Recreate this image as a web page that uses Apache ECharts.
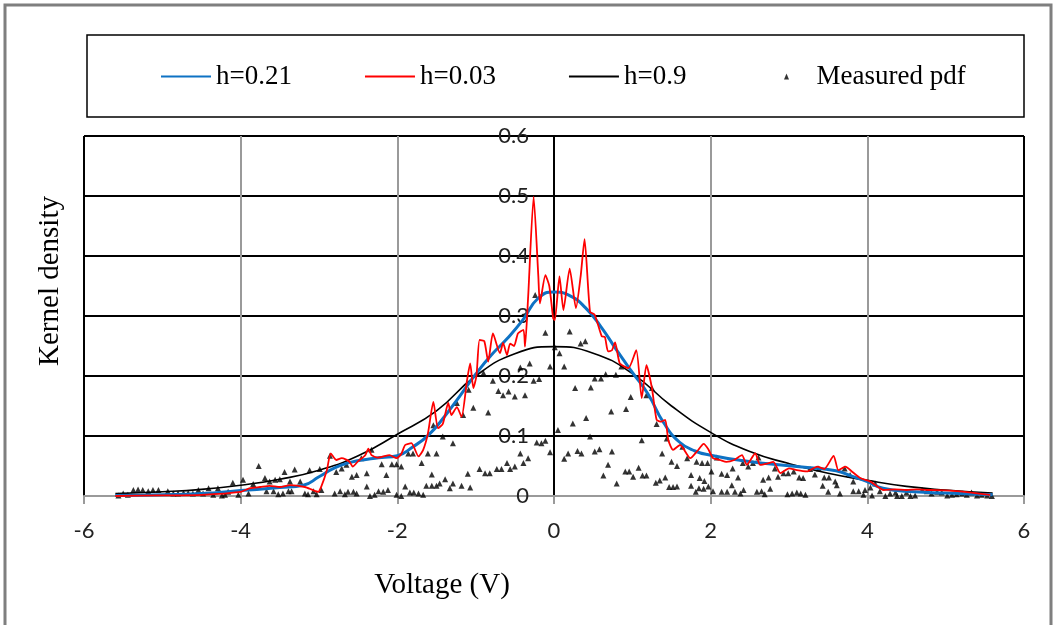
<!DOCTYPE html>
<html>
<head>
<meta charset="utf-8">
<script src="https://cdn.jsdelivr.net/npm/echarts@6/dist/echarts.min.js"></script>
<style>
  html, body { margin: 0; padding: 0; background: #fff; }
  #main { width: 1056px; height: 625px; }
</style>
</head>
<body>
<div id="main"></div>
<script>
// values
const xTicks = [-6, -4, -2, 0, 2, 4, 6];
const yTicks = [0, 0.1, 0.2, 0.3, 0.4, 0.5, 0.6];

const kdeH021 = [
  [-5.6,0.001],[-5.0,0.002],[-4.5,0.004],[-4.0,0.009],[-3.5,0.014],[-3.2,0.018],
  [-3.0,0.032],[-2.8,0.047],[-2.6,0.056],[-2.4,0.061],[-2.2,0.064],[-2.0,0.067],
  [-1.8,0.082],[-1.6,0.102],[-1.4,0.132],[-1.2,0.167],[-1.0,0.203],[-0.8,0.235],
  [-0.6,0.262],[-0.4,0.293],[-0.2,0.330],[0,0.340],[0.2,0.334],[0.4,0.314],
  [0.6,0.282],[0.8,0.243],[1.0,0.206],[1.2,0.170],[1.4,0.122],[1.6,0.090],
  [1.8,0.075],[2.0,0.068],[2.4,0.059],[2.8,0.053],[3.2,0.048],[3.6,0.042],
  [3.8,0.033],[4.0,0.024],[4.2,0.013],[4.6,0.007],[5.0,0.005],[5.6,0.002]
];

const kdeH003 = [
  [-5.6,0.0],[-5.0,0.001],[-4.5,0.002],[-4.0,0.007],[-3.88,0.013],[-3.75,0.015],
  [-3.63,0.017],[-3.5,0.015],[-3.37,0.018],[-3.18,0.015],[-3.08,0.010],[-3.01,0.007],
  [-2.97,0.016],[-2.90,0.043],[-2.85,0.071],[-2.78,0.060],[-2.71,0.063],[-2.66,0.061],
  [-2.61,0.057],[-2.57,0.049],[-2.50,0.058],[-2.41,0.068],[-2.37,0.079],[-2.33,0.068],
  [-2.25,0.064],[-2.18,0.066],[-2.10,0.068],[-2.01,0.063],[-1.95,0.070],[-1.90,0.085],
  [-1.82,0.088],[-1.73,0.066],[-1.67,0.077],[-1.61,0.104],[-1.54,0.157],[-1.48,0.113],
  [-1.42,0.120],[-1.35,0.155],[-1.31,0.135],[-1.24,0.148],[-1.18,0.132],[-1.11,0.193],
  [-1.07,0.221],[-1.03,0.180],[-0.99,0.200],[-0.95,0.260],[-0.89,0.258],[-0.84,0.224],
  [-0.78,0.271],[-0.69,0.238],[-0.65,0.255],[-0.60,0.235],[-0.56,0.254],[-0.51,0.250],
  [-0.46,0.271],[-0.39,0.277],[-0.37,0.249],[-0.33,0.332],[-0.26,0.499],[-0.20,0.366],
  [-0.18,0.321],[-0.11,0.368],[-0.06,0.350],[-0.01,0.296],[0.01,0.293],[0.07,0.366],
  [0.12,0.310],[0.20,0.379],[0.28,0.313],[0.34,0.366],[0.39,0.428],[0.46,0.307],
  [0.52,0.302],[0.61,0.266],[0.65,0.265],[0.69,0.241],[0.74,0.243],[0.78,0.256],
  [0.84,0.221],[0.95,0.213],[1.05,0.243],[1.12,0.163],[1.18,0.218],[1.25,0.180],
  [1.31,0.127],[1.37,0.124],[1.42,0.127],[1.46,0.093],[1.52,0.077],[1.61,0.085],
  [1.74,0.063],[1.83,0.075],[1.91,0.087],[1.97,0.078],[2.03,0.063],[2.12,0.060],
  [2.20,0.057],[2.30,0.060],[2.40,0.068],[2.46,0.052],[2.57,0.071],[2.63,0.052],
  [2.72,0.054],[2.80,0.057],[2.89,0.038],[3.00,0.046],[3.10,0.043],[3.23,0.041],
  [3.36,0.049],[3.45,0.045],[3.57,0.067],[3.63,0.043],[3.72,0.049],[3.81,0.040],
  [3.91,0.030],[4.04,0.024],[4.21,0.010],[4.35,0.011],[4.5,0.010],[4.63,0.011],
  [4.8,0.010],[5.06,0.009],[5.3,0.006],[5.57,0.002]
];

const kdeH09 = [
  [-5.6,0.004],[-5.0,0.007],[-4.5,0.011],[-4.0,0.018],[-3.5,0.028],[-3.0,0.043],
  [-2.5,0.067],[-2.0,0.103],[-1.5,0.142],[-1.0,0.200],[-0.5,0.237],[0,0.249],
  [0.5,0.238],[1.0,0.204],[1.5,0.150],[2.0,0.106],[2.5,0.074],[3.0,0.054],
  [3.5,0.038],[4.0,0.026],[4.5,0.016],[5.0,0.010],[5.6,0.005]
];

const measuredPdf = [
  [-5.56,0.001],[-5.50,0.004],[-5.44,0.002],[-5.37,0.010],[-5.31,0.011],[-5.25,0.010],
  [-5.18,0.008],[-5.12,0.010],[-5.05,0.010],[-4.93,0.008],[-4.86,0.004],[-4.80,0.004],
  [-4.73,0.005],[-4.67,0.005],[-4.61,0.004],[-4.54,0.010],[-4.48,0.004],[-4.41,0.013],
  [-4.35,0.002],[-4.29,0.013],[-4.24,0.001],[-4.20,0.002],[-4.16,0.007],[-4.10,0.022],
  [-4.03,0.002],[-3.97,0.027],[-3.90,0.004],[-3.84,0.020],[-3.77,0.050],
  [-3.69,0.030],[-3.63,0.024],[-3.56,0.027],[-3.50,0.028],[-3.44,0.040],[-3.37,0.024],
  [-3.31,0.044],[-3.24,0.024],[-3.12,0.043],[-2.99,0.045],[-3.67,0.008],[-3.58,0.008],
  [-3.52,0.003],[-3.46,0.004],[-3.39,0.008],[-3.35,0.008],[-3.18,0.004],[-3.14,0.003],
  [-3.07,0.008],[-3.03,0.003],[-2.97,0.010],[-2.86,0.067],[-2.80,0.004],[-2.73,0.008],
  [-2.67,0.003],[-2.63,0.007],[-2.56,0.007],[-2.52,0.004],[-2.78,0.040],[-2.71,0.046],
  [-2.65,0.052],[-2.58,0.032],[-2.52,0.035],[-2.46,0.063],[-2.39,0.038],[-2.33,0.077],
  [-2.39,0.016],[-2.35,0.000],[-2.29,0.002],[-2.24,0.008],[-2.18,0.007],[-2.12,0.010],
  [-2.20,0.053],[-2.14,0.035],[-2.07,0.053],[-2.01,0.053],[-1.95,0.049],[-2.01,0.002],
  [-1.95,0.000],[-1.90,0.016],
  [-1.84,0.006],[-1.79,0.006],[-1.73,0.004],[-1.67,0.002],[-1.86,0.071],[-1.80,0.071],
  [-1.69,0.055],[-1.61,0.071],[-1.56,0.036],[-1.50,0.071],[-1.63,0.017],[-1.56,0.017],
  [-1.50,0.017],[-1.46,0.021],[-1.39,0.028],[-1.33,0.013],[-1.29,0.021],[-1.18,0.017],
  [-1.07,0.014],[-1.42,0.099],[-1.29,0.088],[-1.54,0.118],[-1.24,0.155],[-1.16,0.135],
  [-1.09,0.177],[-1.03,0.147],[-0.84,0.139],[-1.10,0.037],[-0.95,0.045],[-0.88,0.038],
  [-0.82,0.038],[-0.73,0.045],[-0.67,0.045],[-0.60,0.055],[-0.56,0.045],[-0.50,0.049],
  [-0.43,0.071],[-0.39,0.055],[-0.33,0.063],[-0.90,0.205],[-0.78,0.192],[-0.71,0.175],
  [-0.65,0.168],[-0.58,0.174],[-0.50,0.166],[-0.37,0.168],[-0.43,0.214],[-0.31,0.221],
  [-0.26,0.192],[-0.19,0.195],[-0.24,0.335],[-0.11,0.272],[-0.05,0.216],[-0.22,0.089],
  [-0.16,0.088],[-0.11,0.092],[-0.05,0.073],[0.05,0.110],[0.01,0.248],
  [0.07,0.238],[0.13,0.216],[0.13,0.062],[0.18,0.071],[0.20,0.274],[0.27,0.180],
  [0.24,0.121],[0.30,0.075],[0.35,0.071],[0.34,0.254],[0.40,0.258],[0.41,0.130],
  [0.46,0.099],[0.47,0.181],[0.52,0.196],[0.60,0.196],[0.66,0.203],[0.52,0.074],
  [0.58,0.078],[0.63,0.034],[0.69,0.052],[0.74,0.074],[0.73,0.141],[0.79,0.202],
  [0.80,0.021],[0.86,0.216],[0.91,0.041],[0.96,0.041],[0.92,0.145],[0.98,0.165],
  [1.01,0.032],[1.08,0.047],[1.13,0.034],[1.18,0.034],[1.12,0.093],[1.18,0.168],
  [1.25,0.180],[1.30,0.022],[1.35,0.026],[1.42,0.031],[1.31,0.120],[1.38,0.071],
  [1.44,0.096],[1.47,0.015],[1.52,0.015],[1.57,0.016],[1.50,0.057],[1.57,0.050],
  [1.64,0.082],[1.70,0.063],[1.75,0.035],[1.75,0.017],[1.81,0.007],[1.85,0.013],
  [1.82,0.057],[1.89,0.055],[1.96,0.055],[1.92,0.025],[1.97,0.016],
  [1.86,0.030],[1.91,0.012],[2.03,0.008],[2.01,0.041],[2.08,0.064],[2.14,0.037],
  [2.21,0.035],[2.14,0.007],[2.21,0.007],[2.27,0.018],[2.28,0.046],[2.35,0.031],
  [2.31,0.007],[2.38,0.004],[2.42,0.010],[2.41,0.055],[2.48,0.049],[2.54,0.055],
  [2.61,0.064],[2.59,0.007],[2.65,0.008],[2.69,0.003],[2.76,0.012],[2.67,0.027],
  [2.74,0.031],[2.82,0.046],[2.86,0.032],[2.93,0.038],[2.99,0.038],[3.06,0.041],
  [2.98,0.003],[3.04,0.004],[3.10,0.006],[3.15,0.004],[3.21,0.002],[3.13,0.031],
  [3.18,0.030],[3.27,0.045],[3.33,0.036],[3.38,0.046],[3.43,0.017],[3.50,0.007],
  [3.45,0.031],[3.51,0.031],[3.59,0.024],[3.61,0.018],[3.71,0.046],[3.65,0.004],
  [3.78,0.035],[3.82,0.024],[3.89,0.008],
  [3.82,0.008],[3.95,0.002],[3.97,0.010],[4.04,0.014],[4.06,0.001],[4.10,0.021],
  [4.16,0.008],[4.23,0.000],[4.29,0.004],[4.36,0.006],[4.38,0.000],[4.44,0.000],
  [4.50,0.006],[4.55,0.000],[4.61,0.001],[4.70,0.010],[4.76,0.008],[4.82,0.004],
  [4.89,0.007],[4.95,0.006],[5.02,0.001],[5.08,0.002],[5.14,0.003],[5.21,0.004],
  [5.27,0.002],[5.33,0.006],[5.40,0.001],[5.46,0.002],[5.53,0.001],[5.59,0.000]
];

var dom = document.getElementById('main');
var myChart = echarts.init(dom);

var serif = '"Liberation Serif", "Times New Roman", serif';
var sans = 'Lato, "Liberation Sans", sans-serif';

// grid box in pixels; the value axis is moved onto x = 0
var gridLeft = 84, gridRight = 32;
var plotW = 1056 - gridLeft - gridRight;
var yAxisShift = plotW * (0 - xTicks[0]) / (xTicks[xTicks.length - 1] - xTicks[0]);

var legendBase = {
  top: 63,
  padding: 0,
  itemWidth: 50,
  itemHeight: 6,
  itemGap: 72,
  symbolKeepAspect: true,
  textStyle: { fontFamily: serif, fontSize: 27, color: '#000' }
};

var option = {
  backgroundColor: '#fff',
  animation: false,
  grid: { left: gridLeft, right: gridRight, top: 136, bottom: 129 },
  legend: [
    Object.assign({}, legendBase, {
      left: 160,
      itemStyle: { opacity: 0 },
      data: ['h=0.21', 'h=0.03', 'h=0.9']
    }),
    Object.assign({}, legendBase, {
      left: 784,
      data: [{ name: 'Measured pdf', icon: 'path://M0,12L5,0L10,12Z' }]
    })
  ],
  xAxis: {
    type: 'value',
    min: xTicks[0],
    max: xTicks[xTicks.length - 1],
    interval: 2,
    axisLine: { onZero: false, lineStyle: { color: '#9a9a9a', width: 2 } },
    axisTick: { show: true, length: 8, lineStyle: { color: '#9a9a9a', width: 2 } },
    axisLabel: { margin: 24, fontFamily: sans, fontSize: 22, color: '#222' },
    splitLine: {
      show: true,
      lineStyle: { color: ['#000', '#9a9a9a', '#9a9a9a', '#000', '#9a9a9a', '#9a9a9a', '#000'], width: 2 }
    }
  },
  yAxis: {
    type: 'value',
    min: yTicks[0],
    max: yTicks[yTicks.length - 1],
    interval: 0.1,
    offset: -yAxisShift,
    axisLine: { onZero: false, lineStyle: { color: '#000', width: 1.5 } },
    axisTick: { show: false },
    axisLabel: {
      margin: 25, fontFamily: sans, fontSize: 22, color: '#222',
      formatter: function (v) { return v === 0 ? '0' : v.toFixed(1); }
    },
    splitLine: {
      show: true,
      lineStyle: { color: ['#9a9a9a', '#000', '#000', '#000', '#000', '#000', '#000'], width: 2 }
    }
  },
  series: [
    {
      name: 'Measured pdf',
      type: 'scatter',
      symbol: 'triangle',
      symbolSize: [6, 6],
      itemStyle: { color: '#000' },
      data: measuredPdf,
      z: 2
    },
    {
      name: 'h=0.9',
      type: 'line',
      symbol: 'none',
      smooth: true,
      lineStyle: { color: '#000', width: 1.6 },
      itemStyle: { color: '#000' },
      data: kdeH09,
      z: 3
    },
    {
      name: 'h=0.21',
      type: 'line',
      symbol: 'none',
      smooth: true,
      lineStyle: { color: '#0E72C4', width: 3 },
      itemStyle: { color: '#0E72C4' },
      data: kdeH021,
      z: 4
    },
    {
      name: 'h=0.03',
      type: 'line',
      symbol: 'none',
      smooth: 0.2,
      lineStyle: { color: '#FF0000', width: 1.8 },
      itemStyle: { color: '#FF0000' },
      data: kdeH003,
      z: 5
    }
  ],
  graphic: [
    {
      type: 'rect',
      shape: { x: 5, y: 5, width: 1046, height: 650 },
      style: { fill: 'none', stroke: '#7f7f7f', lineWidth: 3 },
      silent: true
    },
    {
      type: 'rect',
      shape: { x: 87, y: 35, width: 937, height: 82 },
      style: { fill: 'none', stroke: '#000', lineWidth: 1.5 },
      silent: true
    },
    {
      type: 'text',
      x: 50, y: 281,
      rotation: Math.PI / 2,
      style: {
        text: 'Kernel density', fontFamily: serif, fontSize: 29, fill: '#000',
        textAlign: 'center', textVerticalAlign: 'middle'
      }
    },
    {
      type: 'text',
      x: 442, y: 585,
      style: {
        text: 'Voltage (V)', fontFamily: serif, fontSize: 29, fill: '#000',
        textAlign: 'center', textVerticalAlign: 'middle'
      }
    }
  ]
};

myChart.setOption(option);
</script>
</body>
</html>
